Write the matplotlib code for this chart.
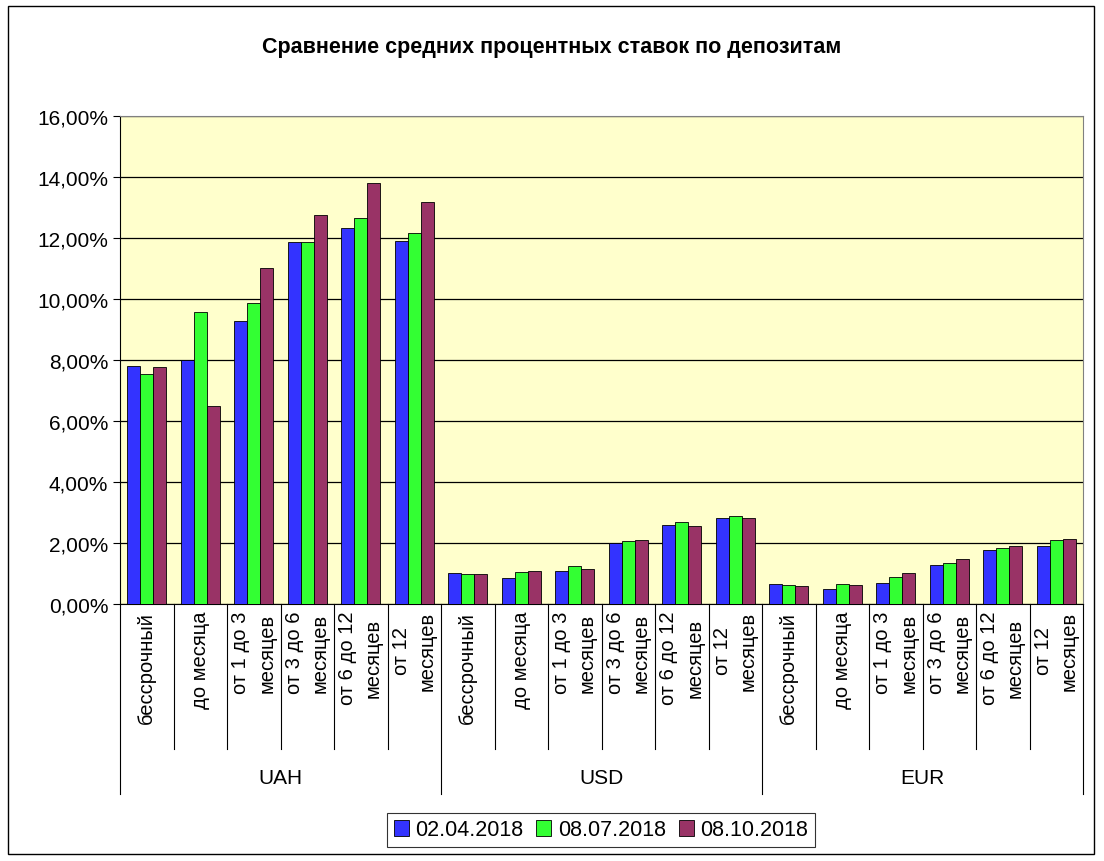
import matplotlib
matplotlib.use("Agg")
import matplotlib.pyplot as plt
from matplotlib.patches import Rectangle
import numpy as np

plt.rcParams["font.family"] = "Liberation Sans"

groups = ["UAH", "USD", "EUR"]
categories = ["бессрочный", "до месяца", "от 1 до 3\nмесяцев", "от 3 до 6\nмесяцев",
              "от 6 до 12\nмесяцев", "от 12\nмесяцев"]
series_names = ["02.04.2018", "08.07.2018", "08.10.2018"]
s1 = [7.80, 8.00, 9.28, 11.87, 12.33, 11.90,
      1.02, 0.85, 1.08, 2.00, 2.59, 2.82,
      0.66, 0.49, 0.69, 1.28, 1.77, 1.90]
s2 = [7.54, 9.57, 9.87, 11.87, 12.66, 12.16,
      0.98, 1.05, 1.25, 2.07, 2.69, 2.89,
      0.62, 0.66, 0.89, 1.34, 1.84, 2.10]
s3 = [7.77, 6.49, 11.02, 12.75, 13.80, 13.18,
      0.98, 1.08, 1.15, 2.10, 2.56, 2.82,
      0.59, 0.62, 1.02, 1.48, 1.90, 2.13]
colors = ["#3333FF", "#33FF33", "#993366"]

fig = plt.figure(figsize=(11.04, 8.62), dpi=100)
fig.patches.append(Rectangle((8/1104, 7/862), 1086/1104, 848/862, transform=fig.transFigure,
                             fill=False, edgecolor="black", lw=1))
ax = fig.add_axes([120/1104, 1-605/862, 963/1104, 488/862])
ax.set_facecolor("#FFFFCC")

n = len(s1)
x = np.arange(n)
w = 0.24
for i, (s, c, nm) in enumerate(zip([s1, s2, s3], colors, series_names)):
    ax.bar(x + (i-1)*w, s, w, color=c, edgecolor="black", lw=0.6, label=nm, zorder=3)

ax.set_xlim(-0.5, n-0.5)
ax.set_ylim(0, 16)
ax.set_yticks(np.arange(0, 17, 2))
ax.set_yticklabels([f"{v:.2f}%".replace(".", ",") for v in np.arange(0, 17, 2)], fontsize=15)
ax.yaxis.grid(True, color="black", lw=0.9, zorder=0)
ax.set_xticks([])
for sp in ax.spines.values():
    sp.set_color("#808080")
ax.spines["bottom"].set_color("black")
ax.spines["left"].set_color("black")
ax.tick_params(axis="y", length=5)

tr = ax.get_xaxis_transform()
for k in range(n):
    ax.text(k, -0.014, categories[k % 6], rotation=90, ha="center", va="top",
            fontsize=14.5, transform=tr, linespacing=1.45)
for k in range(n+1):
    edge = k-0.5
    bottom = -0.389 if k % 6 == 0 else -0.297
    ax.plot([edge, edge], [0, bottom], color="black", lw=0.8, transform=tr, clip_on=False)
for g, name in enumerate(groups):
    ax.text(g*6+2.5, -0.355, name, ha="center", va="center", fontsize=15, transform=tr)

fig.text(0.5, 1-47/862, "Сравнение средних процентных ставок по депозитам",
         ha="center", va="center", fontsize=15.5, fontweight="bold")
leg = fig.legend(loc="center", bbox_to_anchor=(601/1104, 1-831/862), ncol=3, fontsize=15.5,
                 frameon=True, fancybox=False, edgecolor="black", handlelength=0.7,
                 handletextpad=0.3, columnspacing=0.6, borderpad=0.3)
leg.get_frame().set_linewidth(0.8)
fig.savefig("out.png", dpi=100)
